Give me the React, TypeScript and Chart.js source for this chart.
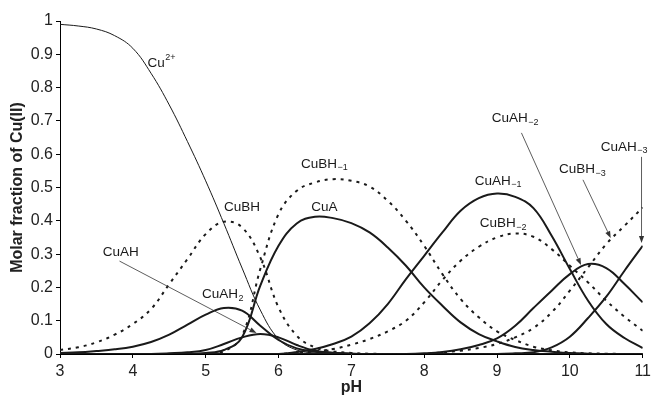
import React, { useEffect, useRef } from "react";
import { Chart, registerables } from "chart.js";

Chart.register(...registerables);

const FONT = '"Liberation Sans", Arial, Helvetica, sans-serif';

// pH grid
const pH = [3, 3.25, 3.5, 3.75, 4, 4.25, 4.5, 4.75, 5, 5.25, 5.5, 5.75, 6, 6.25, 6.5, 6.75, 7, 7.25, 7.5, 7.75, 8, 8.25, 8.5, 8.75, 9, 9.25, 9.5, 9.75, 10, 10.25, 10.5, 10.75, 11];

// species molar fractions
const cu2 = [0.99, 0.985, 0.976, 0.956, 0.918, 0.843, 0.748, 0.638, 0.52, 0.392, 0.258, 0.132, 0.045, 0.012, 0.003, 0.001, 0, 0, 0, 0, 0, 0, 0, 0, 0, 0, 0, 0, 0, 0, 0, 0, 0];
const cuAH2 = [0.003, 0.005, 0.009, 0.014, 0.022, 0.036, 0.058, 0.088, 0.118, 0.138, 0.13, 0.085, 0.042, 0.017, 0.007, 0.003, 0.001, 0, 0, 0, 0, 0, 0, 0, 0, 0, 0, 0, 0, 0, 0, 0, 0];
const cuBH = [0.012, 0.02, 0.035, 0.058, 0.09, 0.135, 0.21, 0.285, 0.36, 0.397, 0.38, 0.29, 0.14, 0.055, 0.02, 0.008, 0.003, 0.001, 0, 0, 0, 0, 0, 0, 0, 0, 0, 0, 0, 0, 0, 0, 0];
const cuAH = [0, 0, 0, 0, 0, 0, 0.002, 0.005, 0.012, 0.03, 0.05, 0.06, 0.05, 0.027, 0.01, 0.004, 0.001, 0, 0, 0, 0, 0, 0, 0, 0, 0, 0, 0, 0, 0, 0, 0, 0];
const cuA = [0, 0, 0, 0, 0, 0, 0, 0, 0.003, 0.012, 0.05, 0.205, 0.325, 0.392, 0.412, 0.408, 0.393, 0.365, 0.32, 0.265, 0.2, 0.145, 0.095, 0.06, 0.038, 0.021, 0.012, 0.007, 0.003, 0.001, 0, 0, 0];
const cuBHm1 = [0, 0, 0, 0, 0, 0, 0, 0, 0, 0.008, 0.055, 0.255, 0.42, 0.49, 0.515, 0.525, 0.52, 0.503, 0.46, 0.4, 0.325, 0.24, 0.165, 0.11, 0.068, 0.042, 0.022, 0.011, 0.005, 0.002, 0.001, 0, 0];
const cuAHm1 = [0, 0, 0, 0, 0, 0, 0, 0, 0, 0, 0, 0, 0, 0.006, 0.015, 0.03, 0.052, 0.092, 0.15, 0.225, 0.295, 0.365, 0.43, 0.468, 0.482, 0.472, 0.438, 0.355, 0.255, 0.16, 0.09, 0.048, 0.018];
const cuBHm2 = [0, 0, 0, 0, 0, 0, 0, 0, 0, 0, 0, 0, 0, 0.004, 0.008, 0.015, 0.028, 0.045, 0.068, 0.1, 0.155, 0.222, 0.28, 0.322, 0.35, 0.362, 0.352, 0.315, 0.265, 0.215, 0.16, 0.112, 0.07];
const cuAHm2 = [0, 0, 0, 0, 0, 0, 0, 0, 0, 0, 0, 0, 0, 0, 0, 0, 0, 0, 0, 0, 0.002, 0.006, 0.014, 0.027, 0.047, 0.085, 0.138, 0.19, 0.24, 0.27, 0.258, 0.21, 0.155];
const cuBHm3 = [0, 0, 0, 0, 0, 0, 0, 0, 0, 0, 0, 0, 0, 0, 0, 0, 0, 0, 0, 0, 0, 0.005, 0.01, 0.018, 0.03, 0.05, 0.078, 0.125, 0.19, 0.26, 0.33, 0.385, 0.44];
const cuAHm3 = [0, 0, 0, 0, 0, 0, 0, 0, 0, 0, 0, 0, 0, 0, 0, 0, 0, 0, 0, 0, 0, 0, 0, 0, 0, 0.002, 0.005, 0.02, 0.052, 0.108, 0.172, 0.25, 0.325];

// ticks
const xTicks = [3, 4, 5, 6, 7, 8, 9, 10, 11];
const yTicks = [0, 0.1, 0.2, 0.3, 0.4, 0.5, 0.6, 0.7, 0.8, 0.9, 1];

// curve labels (pH, fraction of the text's left/middle)
const labelText = ["Cu", "CuBH", "CuAH", "CuAH", "CuA", "CuBH", "CuAH", "CuBH", "CuAH", "CuBH", "CuAH"];
const labelScript = ["2+", "", "", "2", "", "\u22121", "\u22121", "\u22122", "\u22122", "\u22123", "\u22123"];
const labelScriptKind = ["sup", "", "", "sub", "", "sub", "sub", "sub", "sub", "sub", "sub"];
const labelPH = [4.2, 5.25, 3.586, 4.95, 6.45, 6.31, 8.695, 8.763, 8.926, 9.85, 10.425];
const labelFrac = [0.874, 0.441, 0.306, 0.18, 0.441, 0.571, 0.52, 0.393, 0.707, 0.554, 0.622];

// pointer arrows
const arrowFromPH = [3.817, 9.335, 10.18, 10.984];
const arrowFromFrac = [0.279, 0.664, 0.523, 0.592];
const arrowToPH = [5.698, 10.153, 10.561, 10.984];
const arrowToFrac = [0.063, 0.267, 0.348, 0.333];

const INK = "#1a1a1a";

const annotate = {
  id: "annotate",
  afterDatasetsDraw(chart: any) {
    const { ctx } = chart;
    const xs = chart.scales.x;
    const ys = chart.scales.y;
    ctx.save();
    ctx.strokeStyle = "#333";
    ctx.fillStyle = "#333";
    ctx.lineWidth = 0.8;
    for (let i = 0; i < arrowFromPH.length; i++) {
      const x1 = xs.getPixelForValue(arrowFromPH[i]);
      const y1 = ys.getPixelForValue(arrowFromFrac[i]);
      const x2 = xs.getPixelForValue(arrowToPH[i]);
      const y2 = ys.getPixelForValue(arrowToFrac[i]);
      const a = Math.atan2(y2 - y1, x2 - x1);
      const L = 7;
      const W = 2.6;
      const bx = x2 - L * Math.cos(a);
      const by = y2 - L * Math.sin(a);
      ctx.beginPath();
      ctx.moveTo(x1, y1);
      ctx.lineTo(bx, by);
      ctx.stroke();
      ctx.beginPath();
      ctx.moveTo(x2, y2);
      ctx.lineTo(bx - W * Math.sin(a), by + W * Math.cos(a));
      ctx.lineTo(bx + W * Math.sin(a), by - W * Math.cos(a));
      ctx.closePath();
      ctx.fill();
    }
    ctx.fillStyle = INK;
    ctx.textAlign = "left";
    ctx.textBaseline = "middle";
    for (let i = 0; i < labelText.length; i++) {
      const px = xs.getPixelForValue(labelPH[i]);
      const py = ys.getPixelForValue(labelFrac[i]);
      ctx.font = `13.5px ${FONT}`;
      ctx.fillText(labelText[i], px, py);
      const w = ctx.measureText(labelText[i]).width;
      if (labelScript[i]) {
        ctx.font = `9px ${FONT}`;
        const dy = labelScriptKind[i] === "sup" ? -5 : 4;
        ctx.fillText(labelScript[i], px + w + 0.5, py + dy);
      }
    }
    ctx.restore();
  },
};

function series(values: number[], kind: "thin" | "solid" | "dot") {
  return {
    data: pH.map((x, i) => ({ x, y: values[i] })),
    borderColor: INK,
    borderWidth: kind === "thin" ? 1 : 2,
    borderDash: kind === "dot" ? [3, 5] : [],
    pointRadius: 0,
    fill: false,
    tension: 0.4,
  };
}

export default function App() {
  const ref = useRef<HTMLCanvasElement | null>(null);

  useEffect(() => {
    document.body.style.margin = "0";
    const canvas = ref.current;
    if (!canvas) return;
    const tickFont = { family: FONT, size: 16 };
    const chart = new Chart(canvas, {
      type: "line",
      data: {
        datasets: [
          { label: "Cu2+", ...series(cu2, "thin") },
          { label: "CuAH2", ...series(cuAH2, "solid") },
          { label: "CuBH", ...series(cuBH, "dot") },
          { label: "CuAH", ...series(cuAH, "solid") },
          { label: "CuA", ...series(cuA, "solid") },
          { label: "CuBH-1", ...series(cuBHm1, "dot") },
          { label: "CuAH-1", ...series(cuAHm1, "solid") },
          { label: "CuBH-2", ...series(cuBHm2, "dot") },
          { label: "CuAH-2", ...series(cuAHm2, "solid") },
          { label: "CuBH-3", ...series(cuBHm3, "dot") },
          { label: "CuAH-3", ...series(cuAHm3, "solid") },
        ] as any,
      },
      options: {
        responsive: false,
        animation: false,
        devicePixelRatio: 1,
        layout: { padding: { top: 21, right: 8, left: 0, bottom: 0 } },
        plugins: { legend: { display: false }, tooltip: { enabled: false } },
        scales: {
          x: {
            type: "linear",
            min: 3,
            max: 11,
            afterBuildTicks: (s: any) => {
              s.ticks = xTicks.map((v) => ({ value: v }));
            },
            ticks: { font: tickFont, color: "#222", padding: 4, maxRotation: 0, autoSkip: false },
            grid: { drawOnChartArea: false, drawTicks: true, tickLength: 4, color: "#000", lineWidth: 1 },
            border: { display: true, color: "#000", width: 1 },
            title: {
              display: true,
              text: "pH",
              color: "#222",
              font: { family: FONT, size: 16, weight: "bold" },
              padding: { top: 0, bottom: 4 },
            },
            afterFit: (s: any) => {
              s.height = 47;
            },
          },
          y: {
            type: "linear",
            min: 0,
            max: 1,
            afterBuildTicks: (s: any) => {
              s.ticks = yTicks.map((v) => ({ value: v }));
            },
            ticks: {
              font: tickFont,
              color: "#222",
              padding: 3,
              callback: (v: any) => String(Math.round(Number(v) * 10) / 10),
            },
            grid: { drawOnChartArea: false, drawTicks: true, tickLength: 4, color: "#000", lineWidth: 1 },
            border: { display: true, color: "#000", width: 1 },
            title: {
              display: true,
              text: "Molar fraction of Cu(II)",
              color: "#222",
              font: { family: FONT, size: 16, weight: "bold" },
              padding: { top: 8, bottom: 0 },
            },
            afterFit: (s: any) => {
              s.width = 60;
            },
          },
        },
      } as any,
      plugins: [annotate],
    });
    return () => chart.destroy();
  }, []);

  return (
    <div style={{ position: "absolute", left: 0, top: 0, width: 655, height: 401 }}>
      <canvas ref={ref} width={655} height={401} style={{ width: 655, height: 401 }} />
    </div>
  );
}
